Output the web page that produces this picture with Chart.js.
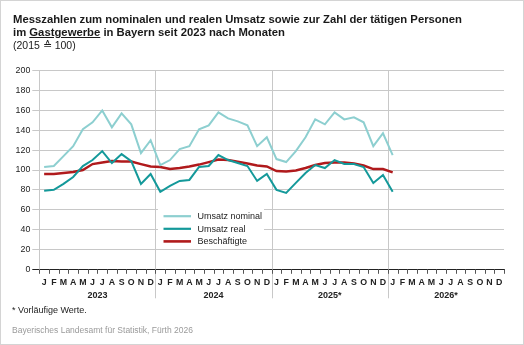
<!DOCTYPE html>
<html>
<head>
<meta charset="utf-8">
<script src="https://cdn.jsdelivr.net/npm/chart.js@4/dist/chart.umd.min.js"></script>
<style>
  html, body { margin: 0; padding: 0; background: #fff; }
  #wrap { position: relative; width: 524px; height: 345px; box-sizing: border-box; border: 1px solid #d4d4d4; overflow: hidden; }
  #chart { position: absolute; left: -1px; top: -1px; }
  .title { position: absolute; left: 12px; top: 12px; font-family: "Liberation Sans", Arial, sans-serif; font-size: 11.3px; line-height: 13px; color: #1a1a1a; font-weight: bold; }
  .title u { text-decoration: underline; text-underline-offset: 1px; }
  .title .sub { font-weight: normal; font-size: 10.5px; }
  .note { position: absolute; left: 11px; top: 304px; font-family: "Liberation Sans", Arial, sans-serif; font-size: 9px; color: #222; }
  .source { position: absolute; left: 11px; top: 324px; font-family: "Liberation Sans", Arial, sans-serif; font-size: 8.5px; color: #9a9a9a; }
</style>
</head>
<body>
<div id="wrap">
  <canvas id="chart" width="524" height="345"></canvas>
  <div class="title">Messzahlen zum nominalen und realen Umsatz sowie zur Zahl der tätigen Personen<br>im <u>Gastgewerbe</u> in Bayern seit 2023 nach Monaten<br><span class="sub">(2015 ≙ 100)</span></div>
  <div class="note">* Vorläufige Werte.</div>
  <div class="source">Bayerisches Landesamt für Statistik, Fürth 2026</div>
</div>
<script>
"use strict"

// Monate (4 Jahre, Werte bis Januar 2026)
var years = ['2023', '2024', '2025*', '2026*'];
var monthLetters = ['J', 'F', 'M', 'A', 'M', 'J', 'J', 'A', 'S', 'O', 'N', 'D'];

var umsatzNominal = [
    103, 104, 114, 124, 141, 148, 160, 143, 157, 146, 117, 130,   // 2023
    105, 110, 121, 124, 141, 145, 158, 152, 149, 145, 124, 133,   // 2024
    111, 108, 119, 133, 151, 146, 158, 151, 153, 148, 124, 137,   // 2025
    115                                                           // 2026
];
var umsatzReal = [
    79, 80, 86, 93, 104, 110, 119, 107, 116, 109, 86, 96,
    78, 84, 89, 90, 103, 104, 115, 110, 107, 104, 89, 96,
    80, 77, 87, 97, 105, 102, 110, 106, 106, 103, 87, 95,
    78
];
var beschaeftigte = [
    96, 96, 97, 98, 100, 106, 107.5, 109, 108.5, 108.5, 106, 103.5,
    103, 101, 102, 103.5, 105.5, 108, 110.5, 110, 108.5, 106.5, 104.5, 103.5,
    99, 98.5, 99.5, 102, 105, 107, 107.5, 107.5, 106.5, 104.5, 101, 101,
    97.5
];
var seriesNames = ['Umsatz nominal', 'Umsatz real', 'Beschäftigte'];
var seriesColors = ['#8dcfd0', '#14999a', '#b01a1c'];

var labels = [];
years.forEach(function (y) {
    monthLetters.forEach(function (m) { labels.push(m + ' ' + y); });
});

var FONT = "'Liberation Sans', Arial, sans-serif";

// Monatsstriche, Jahrestrenner, Beschriftung der x-Achse und Legende
var axisPlugin = {
    id: 'axisPlugin',
    beforeDatasetsDraw: function (chart) {
        var ctx = chart.ctx;
        var x = chart.scales.x;
        var area = chart.chartArea;
        var slot = x.getPixelForValue(1) - x.getPixelForValue(0);
        ctx.save();

        // Jahreslinien
        ctx.strokeStyle = '#c8c8c8';
        ctx.lineWidth = 1;
        for (var y = 1; y < years.length; y++) {
            var bx = Math.round(x.getPixelForValue(y * 12) - slot / 2) + 0.5;
            ctx.beginPath();
            ctx.moveTo(bx, area.top);
            ctx.lineTo(bx, area.bottom + 29);
            ctx.stroke();
        }

        // Monatsstriche
        ctx.strokeStyle = '#555';
        for (var i = 0; i <= labels.length; i++) {
            var tx = Math.round(x.getPixelForValue(i) - slot / 2) + 0.5;
            ctx.beginPath();
            ctx.moveTo(tx, area.bottom);
            ctx.lineTo(tx, area.bottom + 4.5);
            ctx.stroke();
        }

        // Monatsbuchstaben
        ctx.fillStyle = '#222';
        ctx.textAlign = 'center';
        ctx.textBaseline = 'middle';
        ctx.font = 'bold 8.8px ' + FONT;
        for (var k = 0; k < labels.length; k++) {
            ctx.fillText(monthLetters[k % 12], x.getPixelForValue(k), area.bottom + 13.5);
        }
        // Jahre
        ctx.font = 'bold 9px ' + FONT;
        for (var j = 0; j < years.length; j++) {
            var cx = (x.getPixelForValue(j * 12) + x.getPixelForValue(j * 12 + 11)) / 2;
            ctx.fillText(years[j], cx, area.bottom + 26);
        }

        // Legende
        var lx = 158, ly = 209;
        ctx.fillStyle = '#fff';
        ctx.fillRect(lx, ly, 106, 39);
        ctx.font = '9px ' + FONT;
        ctx.textAlign = 'left';
        for (var s = 0; s < seriesNames.length; s++) {
            var yy = ly + 7.2 + s * 12.6;
            ctx.strokeStyle = seriesColors[s];
            ctx.lineWidth = s == 2 ? 2.6 : 2.2;
            ctx.beginPath();
            ctx.moveTo(lx + 5.5, yy);
            ctx.lineTo(lx + 33, yy);
            ctx.stroke();
            ctx.fillStyle = '#222';
            ctx.fillText(seriesNames[s], lx + 39.5, yy + 0.5);
        }
        ctx.restore();
    }
};

function makeDataset(i, values) {
    return {
        label: seriesNames[i],
        data: values,
        borderColor: seriesColors[i],
        backgroundColor: seriesColors[i],
        borderWidth: i == 2 ? 2.4 : 2,
        pointRadius: 0,
        tension: 0,
        fill: false
    };
}

var config = {
    type: 'line',
    data: {
        labels: labels,
        datasets: [
            makeDataset(0, umsatzNominal),
            makeDataset(1, umsatzReal),
            makeDataset(2, beschaeftigte)
        ]
    },
    options: {
        responsive: false,
        animation: false,
        devicePixelRatio: 1,
        layout: { padding: { left: 1, top: 70.7, right: 20, bottom: 0 } },
        plugins: {
            legend: { display: false },
            title: { display: false },
            tooltip: { enabled: false }
        },
        scales: {
            x: {
                type: 'category',
                offset: true,
                grid: { display: false, offset: true },
                border: { display: true, color: '#222', width: 1 },
                ticks: { display: false },
                afterFit: function (scale) { scale.height = 75.7; }
            },
            y: {
                min: 0,
                max: 200,
                ticks: {
                    stepSize: 20,
                    color: '#222',
                    padding: 2,
                    font: { family: FONT, size: 8.8 }
                },
                grid: {
                    color: function (c) { return c.tick && c.tick.value === 0 ? '#222' : '#c8c8c8'; },
                    tickLength: 7,
                    lineWidth: 1
                },
                border: { display: true, color: '#c8c8c8' },
                afterFit: function (scale) { scale.width = 38.3; }
            }
        }
    },
    plugins: [axisPlugin]
};

var myChart = new Chart(document.getElementById('chart').getContext('2d'), config);
</script>
</body>
</html>
